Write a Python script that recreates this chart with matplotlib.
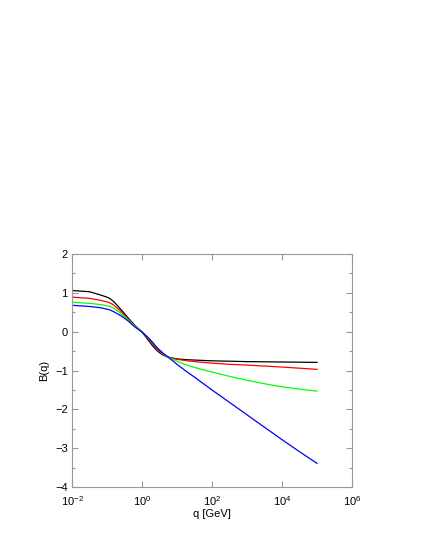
import numpy as np
import matplotlib
matplotlib.use("Agg")
import matplotlib.pyplot as plt
from matplotlib.ticker import FixedLocator, MultipleLocator

plt.rcParams['font.family'] = ['Liberation Sans', 'DejaVu Sans']
plt.rcParams['mathtext.fontset'] = 'custom'
plt.rcParams['mathtext.rm'] = 'Liberation Sans'

log_q = [-2.0, -1.5, -1.2, -1.0, -0.91, -0.8, -0.6, -0.4, -0.2, 0.0,
         0.2, 0.3, 0.4, 0.5, 0.6, 0.7, 0.85, 1.0, 1.25, 1.5, 2.0, 2.5,
         3.0, 3.5, 4.0, 4.5, 5.0]

b_black = [1.06, 1.03, 0.95, 0.89, 0.85, 0.77, 0.57, 0.36, 0.16, -0.01,
           -0.24, -0.36, -0.46, -0.54, -0.60, -0.64, -0.675, -0.70, -0.72, -0.73,
           -0.75, -0.76, -0.77, -0.775, -0.78, -0.785, -0.79]
b_red = [0.89, 0.86, 0.81, 0.77, 0.74, 0.68, 0.52, 0.33, 0.15, 0.0,
         -0.20, -0.31, -0.42, -0.51, -0.58, -0.64, -0.68, -0.71, -0.745, -0.77,
         -0.81, -0.84, -0.86, -0.885, -0.91, -0.94, -0.97]
b_green = [0.76, 0.73, 0.70, 0.67, 0.65, 0.60, 0.47, 0.31, 0.14, 0.0,
           -0.18, -0.28, -0.38, -0.48, -0.56, -0.63, -0.70, -0.76, -0.85, -0.92,
           -1.04, -1.15, -1.25, -1.34, -1.42, -1.48, -1.53]
b_blue = [0.68, 0.65, 0.62, 0.58, 0.56, 0.51, 0.41, 0.28, 0.12, -0.01,
          -0.17, -0.27, -0.38, -0.47, -0.55, -0.62, -0.73, -0.84, -1.01, -1.17,
          -1.50, -1.82, -2.14, -2.46, -2.78, -3.09, -3.39]

series = [(b_black, 'black'), (b_red, 'red'), (b_green, '#00ff00'), (b_blue, 'blue')]

q = 10.0 ** np.array(log_q)

fig = plt.figure(figsize=(4.25, 5.5), dpi=100)
ax = fig.add_axes([0.1694, 0.1145, 0.6588, 0.4236])

for vals, col in series:
    ax.plot(q, vals, color=col, lw=0.9)

ax.set_xscale('log')
ax.set_xlim(1e-2, 1e6)
ax.set_ylim(-4, 2)
ax.xaxis.set_major_locator(FixedLocator([1e-2, 1e0, 1e2, 1e4, 1e6]))
ax.xaxis.set_minor_locator(FixedLocator([]))
ax.yaxis.set_major_locator(MultipleLocator(1))
ax.yaxis.set_minor_locator(MultipleLocator(0.5))

for s in ax.spines.values():
    s.set_color('#999999')
    s.set_linewidth(0.8)
ax.tick_params(which='both', direction='in', top=True, right=True, color='#999999', width=0.8,
               labelsize=8, pad=3)
ax.tick_params(axis='x', which='major', pad=5)
ax.tick_params(which='major', length=4)
ax.tick_params(which='minor', length=2)

ax.set_xlabel('q [GeV]', fontsize=8, labelpad=1)
ax.set_ylabel('B(q)', fontsize=8, labelpad=4)

fig.savefig('out.png', dpi=100)
